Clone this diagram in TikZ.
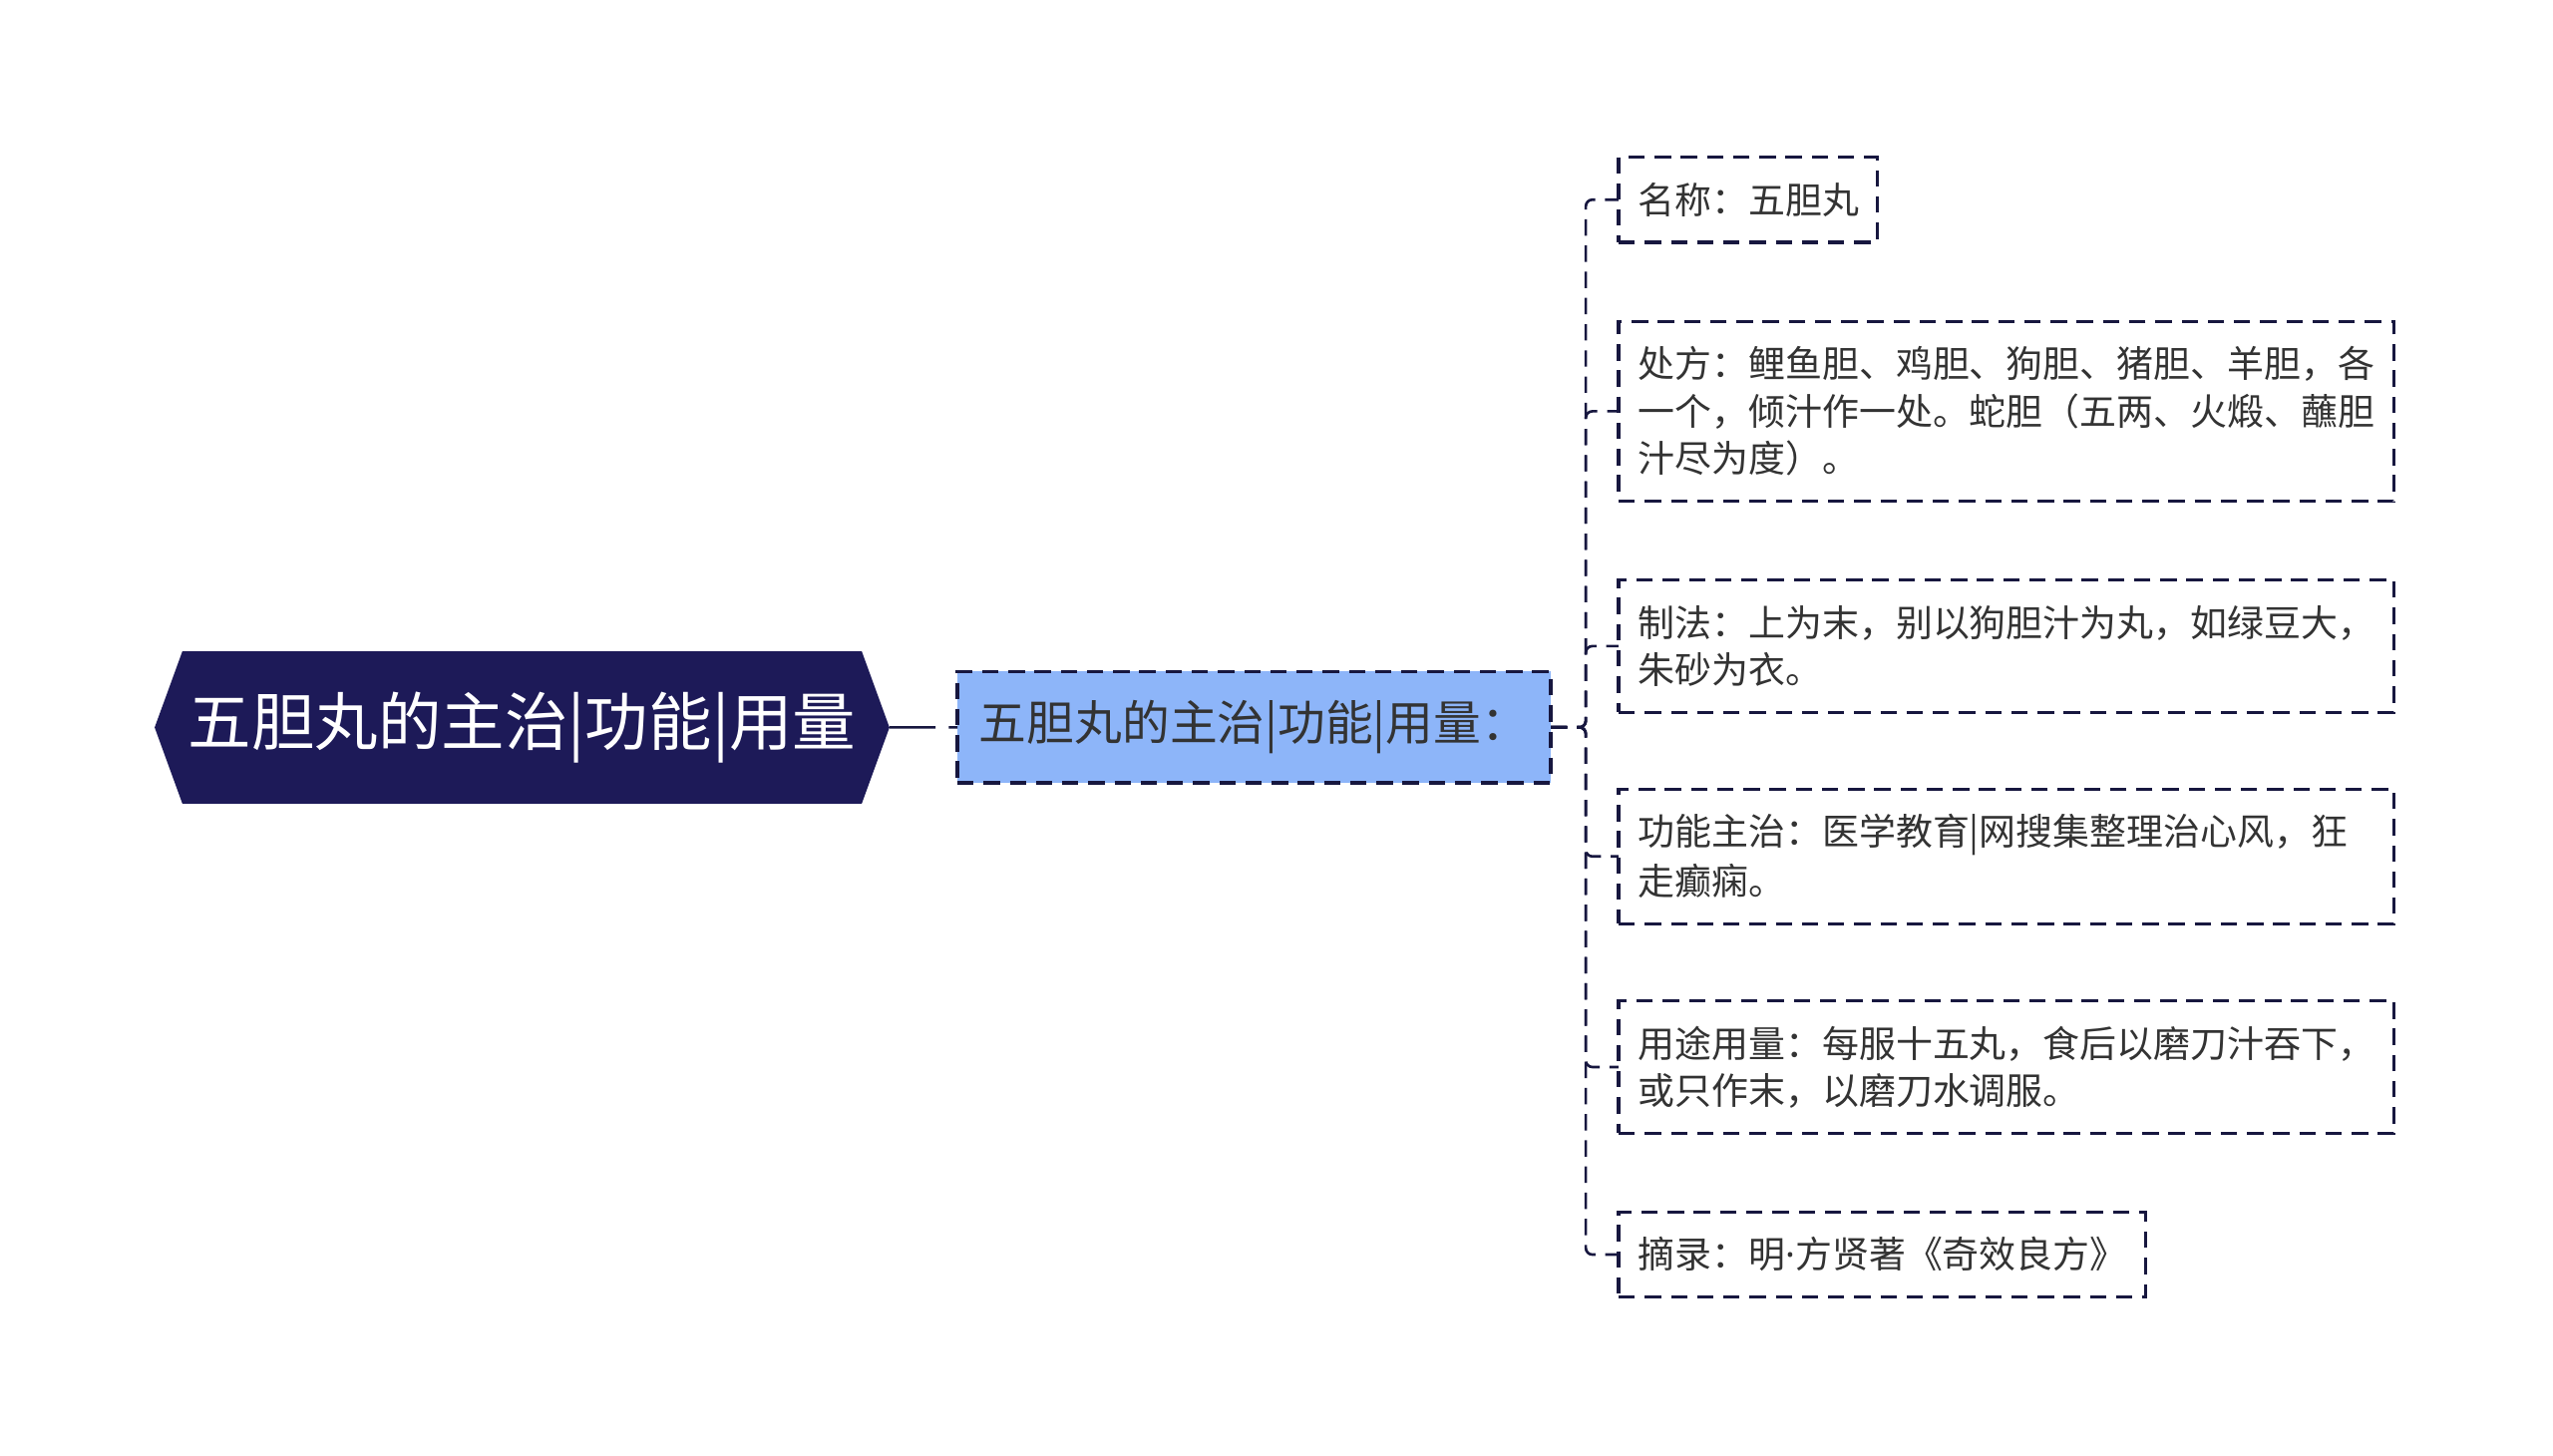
\documentclass[tikz,border=0pt]{standalone}
\usepackage{fontspec}
\setmainfont{Noto Sans CJK SC}
\newfontfamily\dotfont{Noto Sans}
\usetikzlibrary{shapes.symbols}
\definecolor{rootblue}{HTML}{1D1A58}
\definecolor{subblue}{HTML}{8DB5F9}
\definecolor{linkblue}{HTML}{17173F}
\definecolor{txtgray}{HTML}{333333}
\newcommand{\leafstrut}{\rule[-6pt]{0pt}{29pt}}
\begin{document}
\begin{tikzpicture}[x=1pt,y=-1pt,
    root/.style={shape=signal, signal to=west and east, signal pointer angle=140,
        fill=rootblue, text=white, font=\fontsize{38.7}{46}\selectfont,
        minimum width=449pt, minimum height=93pt, inner sep=0pt},
    sub/.style={draw=linkblue, line width=2pt, dash pattern=on 10pt off 6pt,
        fill=subblue, text=txtgray, font=\fontsize{29.1}{35}\selectfont,
        minimum width=362.6pt, minimum height=68pt, inner sep=0pt, outer sep=0pt},
    leaf/.style={draw=linkblue, line width=2pt, dash pattern=on 10pt off 6pt,
        text=txtgray, font=\fontsize{22.5}{29}\selectfont, align=left,
        inner xsep=12pt, inner ysep=11.5pt, outer sep=0pt, anchor=west,
        execute at begin node=\leafstrut, execute at end node=\leafstrut},
    link/.style={draw=linkblue, line width=1.6pt, dash pattern=on 10pt off 6pt,
        rounded corners=4pt}]
    \fill[white] (0,0) rectangle (1560,889.1);

    \node[root] (r) at (319,444.5) {五胆丸的主治|功能|用量};
    \node[sub] (m) at (766.3,444.4) {五胆丸的主治|功能|用量：};

    \node[leaf, text width=134pt] (mc) at (989,122) {名称：五胆丸};
    \node[leaf, text width=450pt] (cf) at (989,251.3) {处方：鲤鱼胆、鸡胆、狗胆、猪胆、羊胆，各\\一个，倾汁作一处。蛇胆（五两、火煅、蘸胆\\汁尽为度）。};
    \node[leaf, text width=450pt] (zf) at (989,394.8) {制法：上为末，别以狗胆汁为丸，如绿豆大，\\朱砂为衣。};
    \node[leaf, text width=450pt] (gn) at (989,523.3) {功能主治：医学教育|网搜集整理治心风，狂\\走癫痫。};
    \node[leaf, text width=450pt] (yt) at (989,652) {用途用量：每服十五丸，食后以磨刀汁吞下，\\或只作末，以磨刀水调服。};
    \node[leaf, text width=298pt] (zl) at (989,766.6) {摘录：明{\dotfont ·}方贤著《奇效良方》};

    \coordinate (j) at (969,444.4);
    \draw[link, dash pattern=on 28pt off 8pt on 10pt off 6pt] (r) -- (m);
    \draw[link] (m) -- (j) |- (mc);
    \draw[link] (m) -- (j) |- (cf);
    \draw[link] (m) -- (j) |- (zf);
    \draw[link] (m) -- (j) |- (gn);
    \draw[link] (m) -- (j) |- (yt);
    \draw[link] (m) -- (j) |- (zl);
\end{tikzpicture}
\end{document}
